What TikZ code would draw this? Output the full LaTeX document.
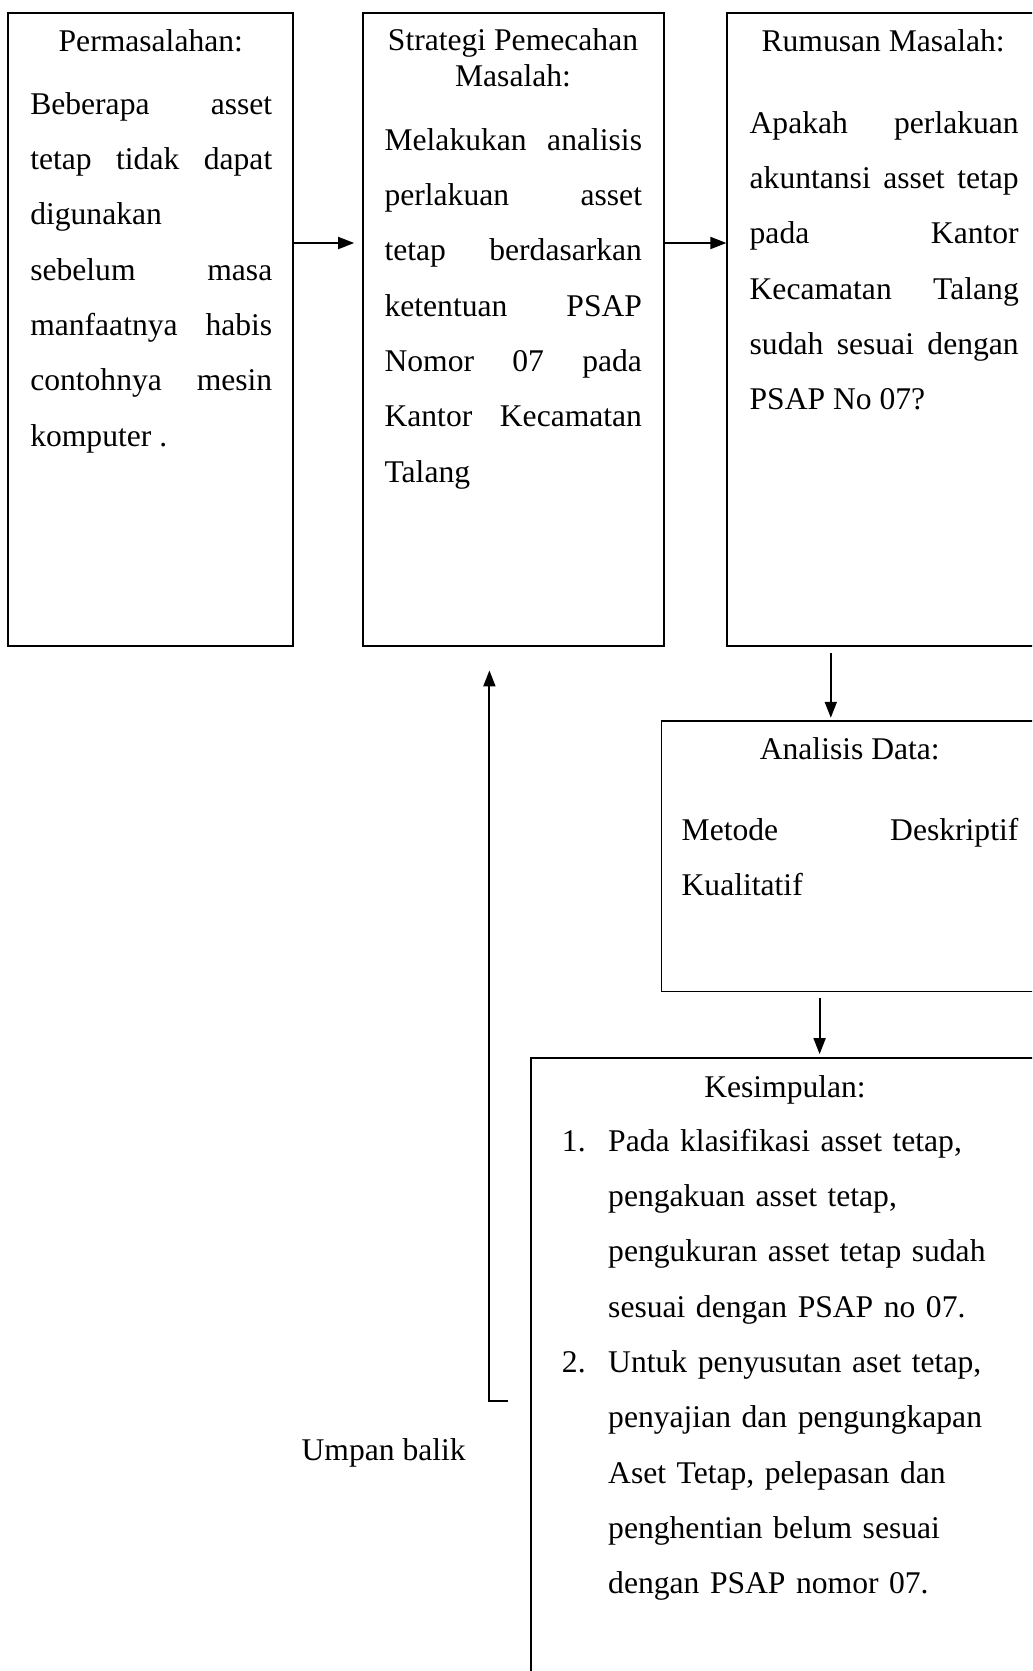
\documentclass[tikz,border=0pt]{standalone}
\usepackage{fontspec}
\setmainfont{Liberation Serif}
\usetikzlibrary{arrows.meta}
\hyphenpenalty=10000
\tolerance=10000

\tikzset{
  box/.style 2 args={draw, line width=1.4pt, inner sep=0pt, minimum width=#1, minimum height=#2},
  txt/.style={inner sep=0pt, font=\fontsize{23.7pt}{41.5pt}\selectfont},
  para/.style={txt, anchor=base west, text width=#1, align=justify},
  arr/.style={-{Triangle[length=12pt,width=9pt]}, line width=1.4pt},
}

\begin{document}
\begin{tikzpicture}[x=0.75pt,y=0.75pt,yscale=-1,xscale=1]
\useasboundingbox (0,0) rectangle (1032,1671);
\clip (0,0) rectangle (1032,1671);

%Shape: Rectangle [Permasalahan]
\node (prob) [box={213.75pt}{474.9pt}] at (150.8,329.4) {};
%Shape: Rectangle [Strategi]
\node (strat) [box={225.2pt}{474.9pt}] at (513.5,329.4) {};
%Shape: Rectangle [Rumusan]
\node (rum) [box={234.5pt}{474.9pt}] at (883.65,329.4) {};
%Shape: Rectangle [Analisis]
\node (ana) [box={283.9pt}{203.1pt}] at (850.75,856.1) {};
%Shape: Rectangle [Kesimpulan]
\node (kes) [box={381.9pt}{481.8pt}] at (785.4,1378.8) {};

% Text Node
\node (probT) [txt, anchor=base] at (150.8,51) {Permasalahan:};
\node (probB) [para=181.5pt] at (30,114) {Beberapa asset\linebreak tetap tidak dapat\linebreak digunakan\newline sebelum masa\linebreak manfaatnya habis\linebreak contohnya mesin\linebreak komputer .};
% Text Node
\node (stratT) [txt, anchor=base, align=center, font=\fontsize{23.7pt}{26.5pt}\selectfont] at (513,86.3) {Strategi Pemecahan\\Masalah:};
\node (stratB) [para=193.1pt] at (384.3,150) {Melakukan analisis\linebreak perlakuan asset\linebreak tetap berdasarkan\linebreak ketentuan PSAP\linebreak Nomor 07 pada\linebreak Kantor Kecamatan\linebreak Talang};
% Text Node
\node (rumT) [txt, anchor=base] at (883.1,51) {Rumusan Masalah:};
\node (rumB) [para=201.8pt] at (749.4,133) {Apakah perlakuan\linebreak akuntansi asset tetap\linebreak pada Kantor\linebreak Kecamatan Talang\linebreak sudah sesuai dengan\linebreak PSAP No 07?};
% Text Node
\node (anaT) [txt, anchor=base] at (849.8,759) {Analisis Data:};
\node (anaB) [para=252.5pt] at (681.4,840) {Metode Deskriptif\linebreak Kualitatif};
% Text Node
\node (kesT) [txt, anchor=base] at (785,1097) {Kesimpulan:};
\node (kesB) [txt, anchor=base west, text width=330pt, align=left] at (561.7,1151) {\makebox[34.7pt][l]{1.}Pada klasifikasi asset tetap,\\\hspace*{34.7pt}pengakuan asset tetap,\\\hspace*{34.7pt}pengukuran asset tetap sudah\\\hspace*{34.7pt}sesuai dengan PSAP no 07.\\\makebox[34.7pt][l]{2.}Untuk penyusutan aset tetap,\\\hspace*{34.7pt}penyajian dan pengungkapan\\\hspace*{34.7pt}Aset Tetap, pelepasan dan\\\hspace*{34.7pt}penghentian belum sesuai\\\hspace*{34.7pt}dengan PSAP nomor 07.};
% Text Node
\node (umpan) [txt, anchor=base] at (383.7,1460) {Umpan balik};

\coordinate (row) at (0,243);
\coordinate (down1) at (830.8,0);
\coordinate (down2) at (819.6,0);
\coordinate (fbend) at (508,1401);
\coordinate (fbcorner) at (489.4,1401);

%Straight Lines
\draw [arr, shorten >=6.2pt] (prob.east |- row) -- (strat.west |- row);
\draw [arr] (strat.east |- row) -- (rum.west |- row);
\draw [arr, shorten <=4.9pt, shorten >=1.5pt] (down1 |- rum.south) -- (down1 |- ana.north);
\draw [arr, shorten <=4pt, shorten >=1.9pt] (down2 |- ana.south) -- (down2 |- kes.north);
%Straight Lines
\draw [arr, shorten >=17.6pt] (fbend) -- (fbcorner) -- (fbcorner |- strat.south);

\end{tikzpicture}
\end{document}
